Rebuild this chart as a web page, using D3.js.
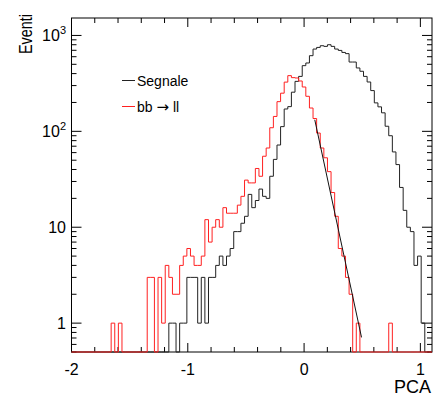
<!DOCTYPE html>
<html lang="it">
<head>
<meta charset="UTF-8">
<title>PCA</title>
<script src="https://d3js.org/d3.v7.min.js"></script>
<style>
  body { margin: 0; background: #fff; }
  text { font-family: "Liberation Sans", Helvetica, Arial, sans-serif; fill: #000; }
</style>
</head>
<body>
<svg id="chart" width="434" height="400"></svg>
<script>
// histogram binning (same for both samples)
const xMin = -2, xMax = 1.1, nBins = 100;

// signal sample, counts per bin
const segnale = [
  0, 0, 0, 0, 0, 0, 0, 0, 0, 0,
  0, 0, 0, 0, 0, 0, 0, 0, 0, 0,
  0, 0, 0, 0, 0, 0, 0, 1, 1, 0,
  1, 1, 3, 3, 3, 1, 3, 1, 3, 3,
  4, 5, 4, 5, 6, 9, 9, 11, 13, 22,
  16, 19, 25, 21, 20, 34, 51, 72, 112, 171,
  181, 256, 332, 374, 484, 516, 615, 721, 750, 781,
  769, 800, 769, 721, 698, 665, 646, 528, 528, 458,
  423, 374, 327, 266, 198, 180, 156, 113, 90, 61,
  45, 26, 15, 10, 9, 4, 5, 1, 0, 0
];

// bb -> ll background, counts per bin
const bbll = [
  0, 0, 0, 0, 0, 0, 0, 0, 0, 0,
  0, 1, 0, 1, 0, 0, 0, 0, 0, 0,
  0, 3, 3, 0, 3, 1, 4, 3, 2, 2,
  4, 5, 6, 5, 4, 4, 5, 12, 7, 10,
  12, 10, 16, 14, 14, 14, 17, 21, 31, 29,
  29, 41, 34, 55, 67, 109, 143, 204, 250, 326,
  381, 363, 360, 335, 290, 232, 175, 136, 96, 67,
  53, 38, 23, 13, 6, 5, 3, 2, 0, 1,
  0, 0, 0, 0, 0, 0, 0, 0, 1, 0,
  0, 0, 0, 0, 0, 0, 0, 0, 0, 0
];

// exponential fit on the background tail
const fitX = [0.092, 0.494];
const fitY = [132, 0.71];

const xTicks = [-2, -1, 0, 1];
const yTicks = [1, 10, 100, 1000];
const yTickBase = ["1", "10", "10", "10"];
const yTickExp = ["", "", "2", "3"];

const svg = d3.select("#chart");
const fL = 71.5, fR = 432, fT = 18, fB = 352;

const x = d3.scaleLinear().domain([xMin, xMax]).range([fL, fR]);
const y = d3.scaleLog().domain([0.5, 1520]).range([fB, fT]);

// frame
svg.append("rect")
  .attr("x", fL).attr("y", fT)
  .attr("width", fR - fL).attr("height", fB - fT)
  .attr("fill", "none").attr("stroke", "#000").attr("stroke-width", 1);

// ticks, ROOT style (inside the frame, on all four sides)
const ticks = svg.append("g").attr("stroke", "#000").attr("stroke-width", 1);
const xMinor = d3.range(-2, 1.05, 0.2);
xMinor.forEach(v => {
  const major = Math.abs(v - Math.round(v)) < 1e-6;
  const len = major ? 9 : 5;
  const px = x(v);
  ticks.append("line").attr("x1", px).attr("x2", px).attr("y1", fB).attr("y2", fB - len);
  ticks.append("line").attr("x1", px).attr("x2", px).attr("y1", fT).attr("y2", fT + len);
});
const yAll = [];
[0.1, 1, 10, 100, 1000].forEach(dec => {
  for (let k = 1; k <= 9; k++) yAll.push(dec * k);
});
yAll.filter(v => v >= 0.5 && v <= 1520).forEach(v => {
  const major = yTicks.includes(Math.round(v * 1e6) / 1e6);
  const len = major ? 10 : 5;
  const py = y(v);
  ticks.append("line").attr("x1", fL).attr("x2", fL + len).attr("y1", py).attr("y2", py);
  ticks.append("line").attr("x1", fR).attr("x2", fR - len).attr("y1", py).attr("y2", py);
});

// tick labels
svg.append("g").selectAll("text")
  .data(xTicks).enter().append("text")
  .attr("x", d => x(d)).attr("y", 375)
  .attr("text-anchor", "middle")
  .style("font-size", "16px")
  .text(d => d);

const yl = svg.append("g").selectAll("text")
  .data(yTicks).enter().append("text")
  .attr("x", 66).attr("y", d => y(d) + 6)
  .attr("text-anchor", "end")
  .style("font-size", "16px");
yl.append("tspan").text((d, i) => yTickBase[i]);
yl.append("tspan")
  .attr("dy", (d, i) => yTickExp[i] ? -7 : 0)
  .style("font-size", "11px")
  .text((d, i) => yTickExp[i]);

// axis titles
svg.append("text")
  .attr("x", 431).attr("y", 393)
  .attr("text-anchor", "end")
  .style("font-size", "18px")
  .text("PCA");
svg.append("text")
  .attr("transform", "translate(32,14) rotate(-90)")
  .attr("text-anchor", "end")
  .attr("textLength", 40)
  .attr("lengthAdjust", "spacingAndGlyphs")
  .style("font-size", "18px")
  .text("Eventi");

// histograms as step lines; empty bins sit on the bottom of the frame
const bw = (xMax - xMin) / nBins;
function stepPath(vals) {
  let d = "";
  vals.forEach((v, i) => {
    const py = v > 0 ? y(v) : fB;
    d += (i ? "L" : "M") + x(xMin + i * bw) + "," + py + "L" + x(xMin + (i + 1) * bw) + "," + py;
  });
  return d;
}
svg.append("path").attr("d", stepPath(segnale))
  .attr("fill", "none").attr("stroke", "#222").attr("stroke-width", 1);
svg.append("path").attr("d", stepPath(bbll))
  .attr("fill", "none").attr("stroke", "#ff2020").attr("stroke-width", 1);

// fit
const fitLine = d3.line().x(d => x(d[0])).y(d => y(d[1]));
svg.append("path").datum(d3.zip(fitX, fitY))
  .attr("d", fitLine)
  .attr("fill", "none").attr("stroke", "#111").attr("stroke-width", 1);

// legend
const legend = [
  { parts: ["Segnale"], color: "#222" },
  { parts: ["bb ", "\u2192", " ll"], color: "#ff2020" }
];
legend.forEach((e, i) => {
  const ly = 80.5 + i * 26;
  svg.append("line").attr("x1", 122).attr("x2", 135).attr("y1", ly).attr("y2", ly)
    .attr("stroke", e.color).attr("stroke-width", 1);
  const t = svg.append("text").attr("x", 137).attr("y", ly + 5)
    .style("font-size", "14px");
  e.parts.forEach(p => {
    const s = t.append("tspan").text(p);
    if (p === "\u2192") s.style("font-family", "'DejaVu Sans', sans-serif").style("font-size", "15px");
  });
});
</script>
</body>
</html>
